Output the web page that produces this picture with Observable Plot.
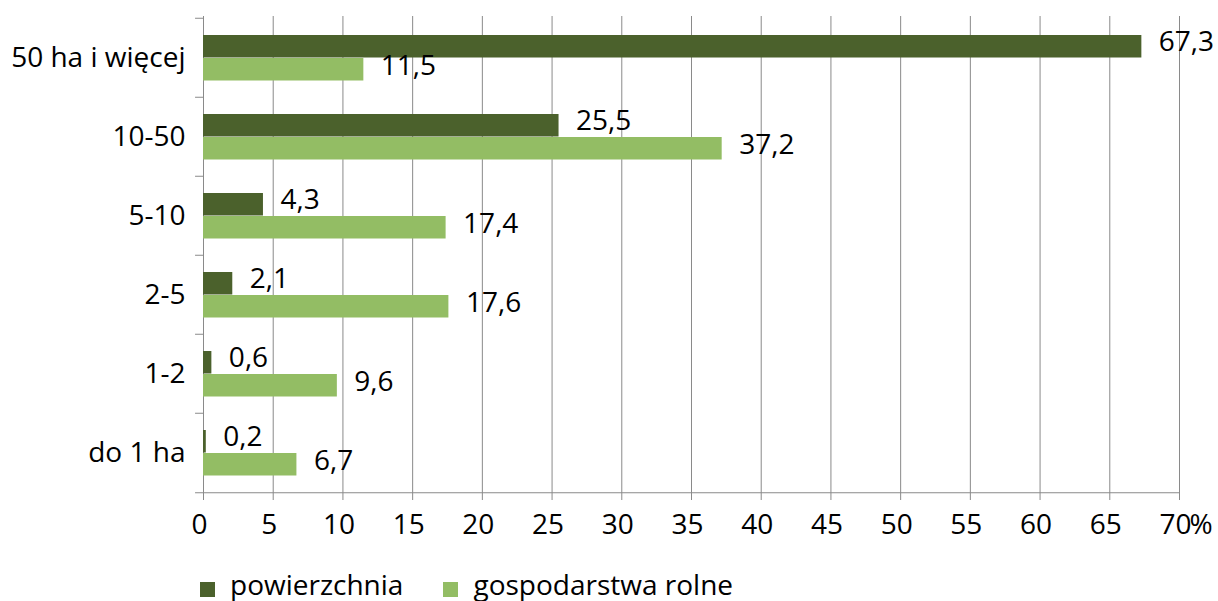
<!DOCTYPE html>
<html>
<head>
<meta charset="utf-8">
<script src="https://cdn.jsdelivr.net/npm/d3@7"></script>
<script src="https://cdn.jsdelivr.net/npm/@observablehq/plot@0.6"></script>
<style>
  html, body { margin: 0; padding: 0; background: #fff; }
  #chart { width: 1218px; }
  #legend {
    height: 56px; box-sizing: border-box; padding-top: 33px; padding-left: 200px;
    display: flex; align-items: center;
    font-family: 'Open Sans', sans-serif; font-size: 28px; color: #000;
  }
  .item { display: flex; align-items: center; margin-right: 40px; }
  .sw { width: 15px; height: 15px; margin-right: 15px; }
  .lab { position: relative; top: -5px; line-height: 23px; white-space: nowrap; }
</style>
</head>
<body>
<div id="chart"></div>
<div id="legend"></div>
<script>
const categories = ["50 ha i więcej", "10-50", "5-10", "2-5", "1-2", "do 1 ha"];
const powierzchnia = [67.3, 25.5, 4.3, 2.1, 0.6, 0.2];
const gospodarstwa = [11.5, 37.2, 17.4, 17.6, 9.6, 6.7];
const seriesNames = ["powierzchnia", "gospodarstwa rolne"];
const xTicks = [0, 5, 10, 15, 20, 25, 30, 35, 40, 45, 50, 55, 60, 65, 70];

const dark = "#4b612c";
const light = "#93bd64";
const gridColor = "#8a8a8a";

const rows = categories.map((c, i) => ({category: c, pow: powierzchnia[i], gosp: gospodarstwa[i]}));
const fmt = v => v.toFixed(1).replace(".", ",");

const chart = Plot.plot({
  width: 1218,
  height: 545,
  marginTop: 16,
  marginBottom: 52,
  marginLeft: 203,
  marginRight: 39,
  style: {fontFamily: "'Open Sans', sans-serif", fontSize: "28px", color: "#000", background: "#fff"},
  x: {domain: [0, 70], label: null},
  y: {domain: categories, padding: 0, label: null},
  marks: [
    Plot.gridX(xTicks, {stroke: gridColor, strokeOpacity: 1, strokeWidth: 1}),
    Plot.barX(rows, {x: "pow", y: "category", fill: dark, insetTop: 17, insetBottom: 39.5}),
    Plot.barX(rows, {x: "gosp", y: "category", fill: light, insetTop: 40, insetBottom: 16.5}),
    Plot.text(rows, {x: "pow", y: "category", text: d => fmt(d.pow), textAnchor: "start", dx: 17, dy: -16, fill: "#000"}),
    Plot.text(rows, {x: "gosp", y: "category", text: d => fmt(d.gosp), textAnchor: "start", dx: 17, dy: 8, fill: "#000"}),
    Plot.ruleY(categories, {y: d => d, dy: -39.75, x1: -0.57, x2: 0, stroke: gridColor}),
    Plot.ruleY([categories[categories.length - 1]], {y: d => d, dy: 39.75, x1: -0.57, x2: 70, stroke: gridColor}),
    Plot.axisY({tickSize: 0, tickPadding: 18, fontSize: 28, fill: "#000"}),
    Plot.axisX(xTicks, {tickSize: 7, text: null, stroke: gridColor, strokeOpacity: 1}),
    Plot.axisX(xTicks, {tickSize: 0, tickPadding: 21, dx: -4, fontSize: 28, fill: "#000", tickFormat: d => String(d)}),
    Plot.text(["%"], {x: 70, frameAnchor: "bottom", lineAnchor: "top", textAnchor: "start", dx: 10, dy: 21, fill: "#000"})
  ]
});
document.getElementById("chart").appendChild(chart);

const legend = document.getElementById("legend");
[[seriesNames[0], dark], [seriesNames[1], light]].forEach(([name, color]) => {
  const item = document.createElement("div");
  item.className = "item";
  const sw = document.createElement("div");
  sw.className = "sw";
  sw.style.background = color;
  const lab = document.createElement("span");
  lab.className = "lab";
  lab.textContent = name;
  item.appendChild(sw);
  item.appendChild(lab);
  legend.appendChild(item);
});
</script>
</body>
</html>
